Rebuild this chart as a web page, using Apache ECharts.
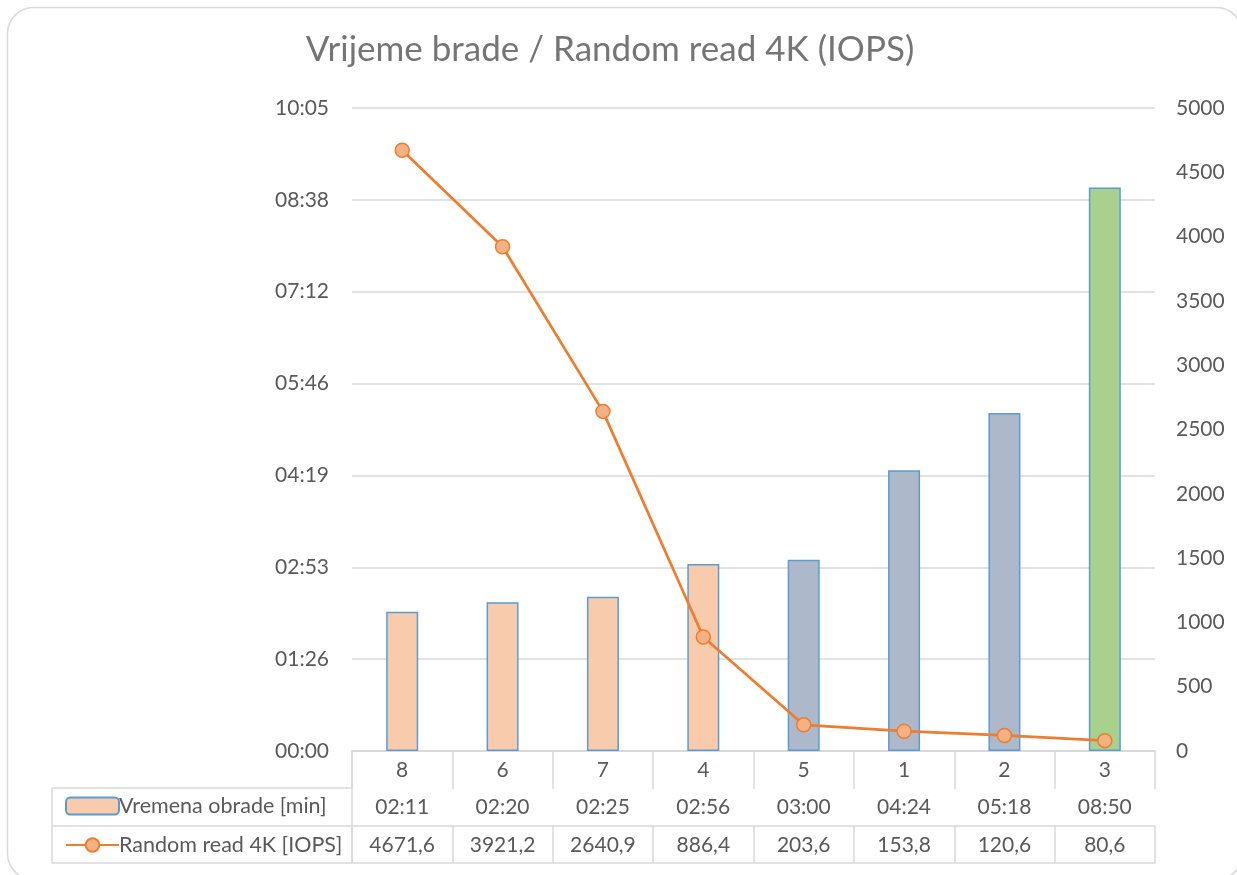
<!DOCTYPE html>
<html>
<head>
<meta charset="utf-8">
<script src="https://cdn.jsdelivr.net/npm/echarts@6/dist/echarts.min.js"></script>
<style>
html,body{margin:0;padding:0;background:#fff;}
#chart{width:1237px;height:875px;}
</style>
</head>
<body>
<div id="chart"></div>
<script>
// ---- data ----
const categories = ['8', '6', '7', '4', '5', '1', '2', '3'];
// processing time in seconds (mm:ss)
const processingSeconds = [131, 140, 145, 176, 180, 264, 318, 530];
const iops = [4671.6, 3921.2, 2640.9, 886.4, 203.6, 153.8, 120.6, 80.6];
const barGroup = [0, 0, 0, 0, 1, 1, 1, 2];
const seriesNames = ['Vremena obrade [min]', 'Random read 4K [IOPS]'];
const titleText = 'Vrijeme brade / Random read 4K (IOPS)';

// ---- styles ----
const groupColors = ['#F8CBAD', '#ADB9CA', '#A9D18E'];
const FONT = 'Lato, "Open Sans", sans-serif';
const TXT = '#595959';
const GRIDC = '#d9d9d9';
const FS = 21;

function mmss(s) {
  const t = Math.round(s);
  const m = Math.floor(t / 60), sec = t % 60;
  return String(m).padStart(2, '0') + ':' + String(sec).padStart(2, '0');
}
function dec(v) { return v.toFixed(1).replace('.', ','); }

const G = { left: 352, right: 82, top: 108, bottom: 124 };
const ROW = [37, 38, 37];

const chart = echarts.init(document.getElementById('chart'));

const baseX = {
  type: 'category', data: categories, position: 'bottom', gridIndex: 0,
  axisLine: { show: true, lineStyle: { color: GRIDC, width: 1.5 } },
  axisTick: { show: true, interval: 0, alignWithLabel: false, lineStyle: { color: GRIDC, width: 1.5 } },
  axisLabel: { fontFamily: FONT, fontSize: FS, color: TXT, interval: 0 },
  splitLine: { show: false }
};

const option = {
  animation: false,
  backgroundColor: '#fff',
  title: {
    text: titleText, left: 605, top: 27, textAlign: 'center',
    textStyle: { fontFamily: FONT, fontSize: 35, fontWeight: 'normal', color: '#757575' }
  },
  legend: {
    orient: 'vertical', left: 60, top: 790, itemGap: 17,
    itemWidth: 53, itemHeight: 17,
    textStyle: { fontFamily: FONT, fontSize: 21.5, color: TXT, padding: [0, 0, 0, -5] },
    data: seriesNames
  },
  grid: { left: G.left, right: G.right, top: G.top, bottom: G.bottom },
  xAxis: [
    Object.assign({}, baseX, {
      axisTick: Object.assign({}, baseX.axisTick, { length: ROW[0] }),
      axisLabel: Object.assign({}, baseX.axisLabel, { margin: 9 })
    }),
    Object.assign({}, baseX, {
      offset: ROW[0],
      axisTick: Object.assign({}, baseX.axisTick, { length: ROW[1] }),
      axisLabel: Object.assign({}, baseX.axisLabel, {
        margin: 9, formatter: (v, i) => mmss(processingSeconds[i])
      })
    }),
    Object.assign({}, baseX, {
      offset: ROW[0] + ROW[1],
      axisTick: Object.assign({}, baseX.axisTick, { length: ROW[2] }),
      axisLabel: Object.assign({}, baseX.axisLabel, {
        margin: 9, formatter: (v, i) => dec(iops[i])
      })
    }),
    Object.assign({}, baseX, {
      offset: ROW[0] + ROW[1] + ROW[2],
      axisTick: { show: false },
      axisLabel: { show: false }
    })
  ],
  yAxis: [
    {
      type: 'value', min: 0, max: 604.8, interval: 86.4, position: 'left',
      axisLine: { show: false }, axisTick: { show: false },
      axisLabel: { fontFamily: FONT, fontSize: FS, color: TXT, margin: 23, formatter: v => mmss(v) },
      splitLine: { lineStyle: { color: GRIDC, width: 1.5 } }
    },
    {
      type: 'value', min: 0, max: 5000, interval: 500, position: 'right',
      axisLine: { show: false }, axisTick: { show: false },
      axisLabel: { fontFamily: FONT, fontSize: FS, color: TXT, margin: 21, formatter: v => String(v) },
      splitLine: { show: false }
    }
  ],
  series: [
    {
      name: seriesNames[0], type: 'bar', xAxisIndex: 0, yAxisIndex: 0,
      barWidth: 32,
      itemStyle: { color: groupColors[0], borderColor: '#5B9BD5', borderWidth: 1.5 },
      data: processingSeconds.map((v, i) => ({
        value: v, itemStyle: { color: groupColors[barGroup[i]] }
      })),
      z: 2
    },
    {
      name: seriesNames[1], type: 'line', xAxisIndex: 0, yAxisIndex: 1,
      data: iops,
      symbol: 'circle', symbolSize: 14,
      lineStyle: { color: '#ED7D31', width: 2.75 },
      itemStyle: { color: '#F4B183', borderColor: '#ED7D31', borderWidth: 1.5 },
      z: 3
    }
  ],
  graphic: []
};

chart.setOption(option);

// table lines for the legend column (layout only)
function drawFrame() {
  const H = 875;
  const yBase = H - G.bottom;
  const y1 = yBase + ROW[0], y2 = y1 + ROW[1], y3 = y2 + ROW[2];
  const xL = 52, xR = G.left;
  const ls = { stroke: GRIDC, lineWidth: 1.5 };
  chart.setOption({
    graphic: [
      { type: 'rect', shape: { x: 7.5, y: 7.5, width: 1235, height: 872, r: 26 },
        style: { fill: 'none', stroke: GRIDC, lineWidth: 1.5 }, silent: true, z: -10 },
      { type: 'line', shape: { x1: xL, y1: y1, x2: xR, y2: y1 }, style: ls, silent: true },
      { type: 'line', shape: { x1: xL, y1: y2, x2: xR, y2: y2 }, style: ls, silent: true },
      { type: 'line', shape: { x1: xL, y1: y3, x2: xR, y2: y3 }, style: ls, silent: true },
      { type: 'line', shape: { x1: xL, y1: y1, x2: xL, y2: y3 }, style: ls, silent: true },
      { type: 'line', shape: { x1: xR, y1: yBase, x2: xR, y2: y3 }, style: ls, silent: true }
    ]
  });
}
drawFrame();
</script>
</body>
</html>
